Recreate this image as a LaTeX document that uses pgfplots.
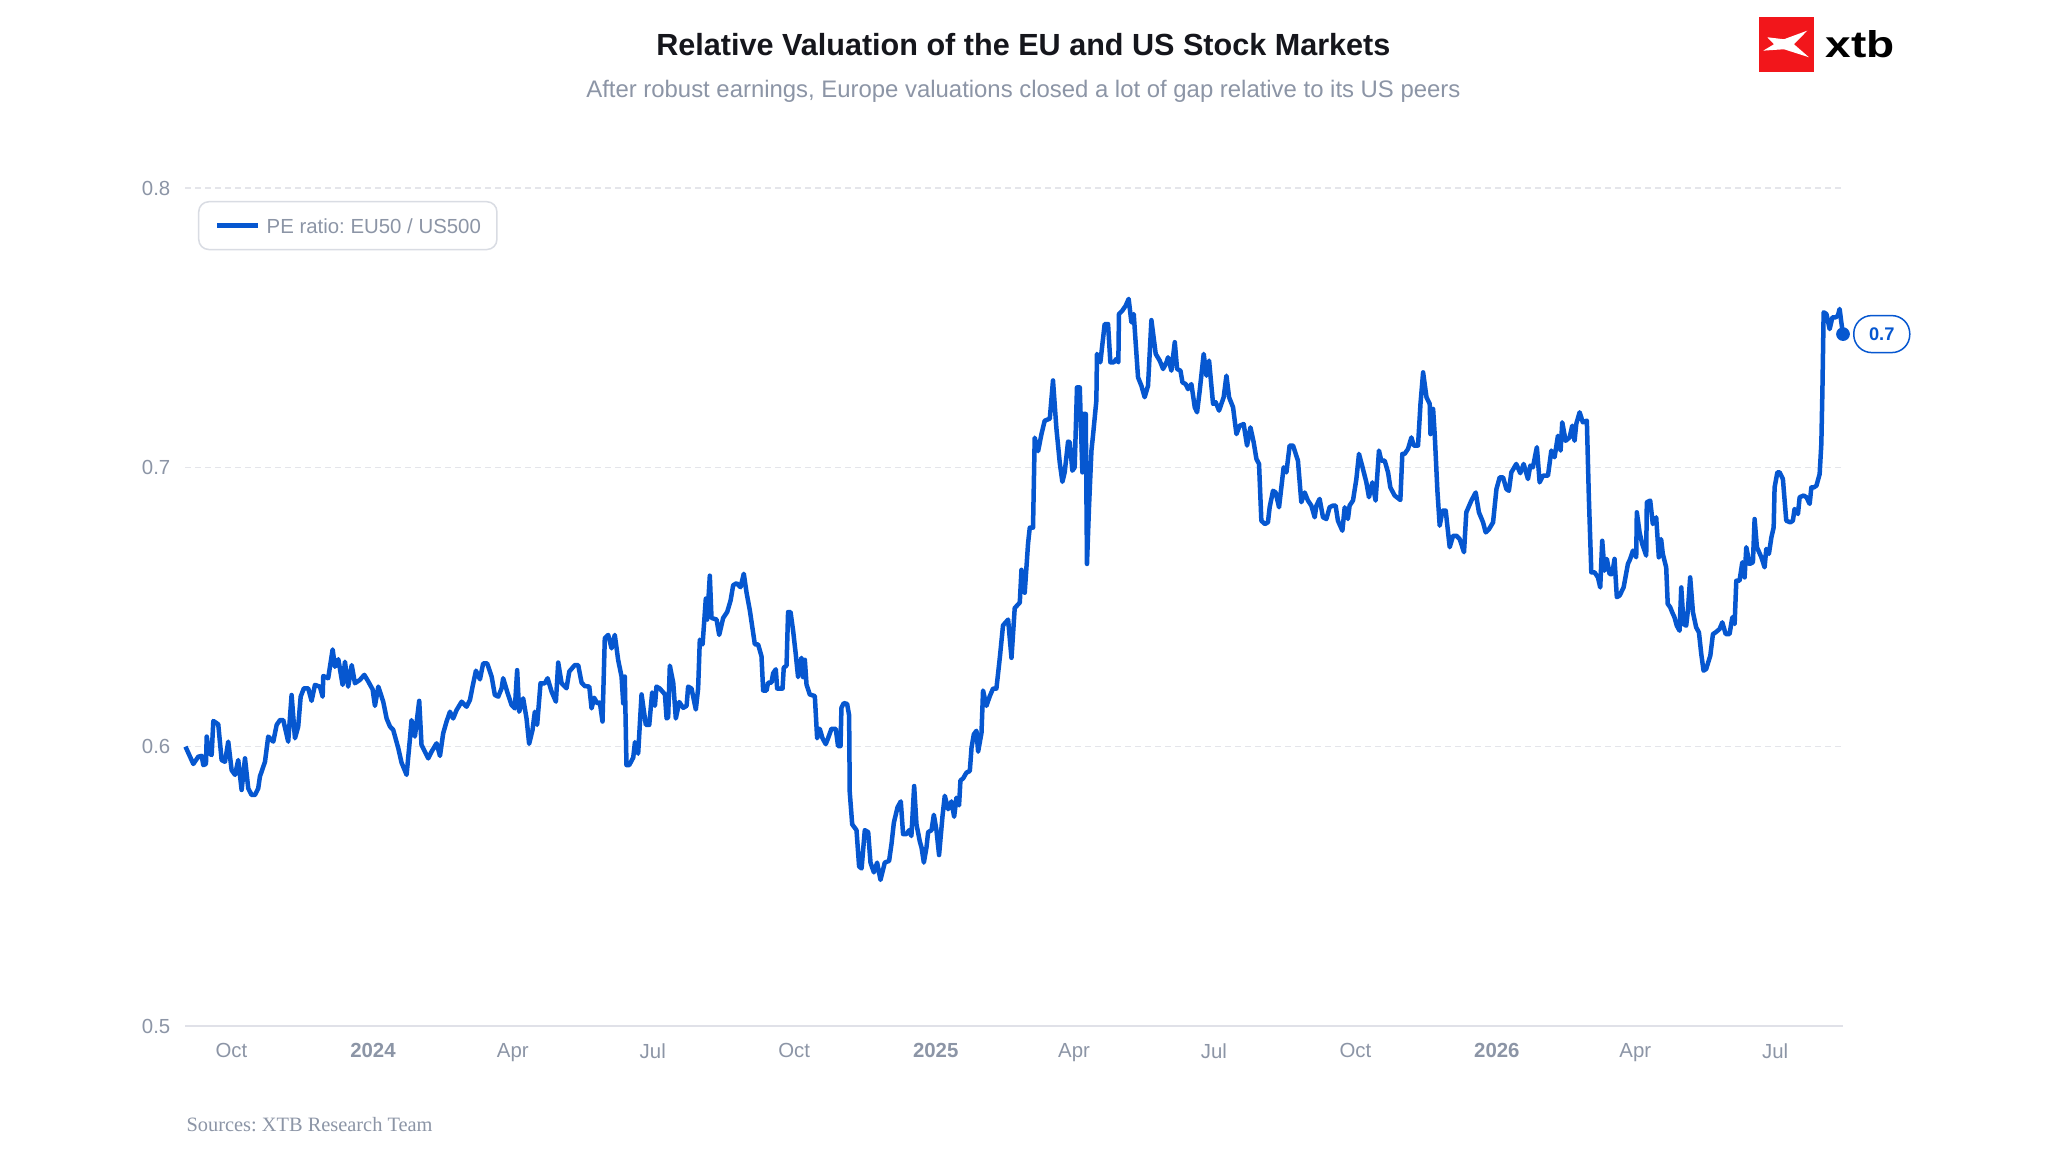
\documentclass[border=0pt]{standalone}
\usepackage{fontspec}
\setmainfont{Liberation Sans}
\newfontfamily\seriffont{Liberation Serif}
\usepackage{pgfplots}
\pgfplotsset{compat=1.18}
\usepackage{pgfplotstable}
\usepackage{graphicx}
\frenchspacing
\definecolor{lineblue}{HTML}{0657D0}
\definecolor{labelgray}{HTML}{8C95A6}
\definecolor{gridgray}{HTML}{E4E5EA}
\definecolor{axisgray}{HTML}{E0E1E8}
\definecolor{legendgray}{HTML}{D9DCE3}
\definecolor{titlecolor}{HTML}{15161C}
\definecolor{xtbred}{HTML}{F2161B}

\pgfplotstableread{
d v
-121.9 0.6000
-116.8 0.5938
-113.6 0.5964
-111.4 0.5967
-110.3 0.5934
-108.6 0.5938
-108.1 0.6036
-106.4 0.5976
-104.9 0.5970
-103.8 0.6092
-100.6 0.6080
-98.4 0.5952
-96.2 0.5946
-94.1 0.6018
-91.9 0.5916
-89.7 0.5899
-87.6 0.5952
-85.4 0.5845
-83.2 0.5958
-81.1 0.5851
-78.9 0.5827
-76.7 0.5827
-74.6 0.5851
-73.5 0.5893
-70.2 0.5946
-68.1 0.6036
-64.8 0.6018
-62.6 0.6078
-60.5 0.6095
-58.3 0.6095
-55.1 0.6018
-52.9 0.6185
-50.7 0.6030
-48.6 0.6072
-47.0 0.6179
-44.9 0.6209
-42.1 0.6209
-39.9 0.6164
-37.7 0.6221
-34.5 0.6215
-32.7 0.6179
-32.3 0.6253
-29.1 0.6245
-26.2 0.6348
-24.7 0.6286
-22.5 0.6313
-19.7 0.6221
-18.2 0.6304
-16.1 0.6215
-13.8 0.6292
-11.7 0.6227
-8.5 0.6239
-5.6 0.6257
-3.0 0.6233
-0.2 0.6205
1.3 0.6146
3.5 0.6215
6.7 0.6161
8.9 0.6101
11.1 0.6072
13.2 0.6060
16.5 0.5994
18.6 0.5943
21.9 0.5899
24.1 0.6030
25.1 0.6095
27.3 0.6036
30.1 0.6164
31.6 0.6006
36.0 0.5958
38.1 0.5982
41.4 0.6012
43.6 0.5967
45.7 0.6048
47.9 0.6090
50.1 0.6125
52.2 0.6101
54.4 0.6131
57.7 0.6161
60.9 0.6143
63.1 0.6167
64.8 0.6215
67.0 0.6272
69.6 0.6241
71.7 0.6298
74.3 0.6298
77.2 0.6251
79.3 0.6185
81.5 0.6179
83.7 0.6209
84.7 0.6245
87.3 0.6197
90.2 0.6149
92.3 0.6137
93.8 0.6274
95.1 0.6125
97.7 0.6173
99.9 0.6101
101.6 0.6010
103.8 0.6060
105.3 0.6125
106.8 0.6078
109.0 0.6227
111.8 0.6227
113.6 0.6245
116.2 0.6197
119.0 0.6161
120.5 0.6301
122.7 0.6227
125.9 0.6209
127.7 0.6269
131.3 0.6292
133.5 0.6292
135.7 0.6229
137.8 0.6217
140.7 0.6215
142.2 0.6137
143.9 0.6175
145.9 0.6155
147.6 0.6158
149.3 0.6090
150.8 0.6388
153.0 0.6400
155.2 0.6352
157.3 0.6400
159.5 0.6310
161.7 0.6251
162.8 0.6155
163.8 0.6251
164.9 0.5934
166.7 0.5934
169.3 0.5961
170.4 0.6016
172.5 0.5975
174.7 0.6187
177.5 0.6078
179.7 0.6078
181.6 0.6194
183.4 0.6146
184.4 0.6215
186.6 0.6208
189.9 0.6187
191.0 0.6101
192.0 0.6105
193.1 0.6290
195.3 0.6229
197.0 0.6101
199.2 0.6160
201.8 0.6139
204.0 0.6146
205.0 0.6215
207.2 0.6208
210.0 0.6133
211.5 0.6208
212.6 0.6383
214.4 0.6366
216.5 0.6530
217.4 0.6455
219.1 0.6612
220.2 0.6461
223.5 0.6455
225.2 0.6400
227.8 0.6461
230.4 0.6482
232.6 0.6523
234.3 0.6578
236.5 0.6585
239.1 0.6571
241.2 0.6619
243.0 0.6551
245.1 0.6489
247.3 0.6407
248.4 0.6366
250.5 0.6366
252.7 0.6324
253.8 0.6201
256.0 0.6201
257.0 0.6229
259.2 0.6229
260.3 0.6263
262.0 0.6277
262.9 0.6208
266.4 0.6208
267.2 0.6283
269.0 0.6290
270.0 0.6482
271.6 0.6482
273.3 0.6414
275.0 0.6331
276.5 0.6249
278.7 0.6318
279.8 0.6249
280.9 0.6311
282.0 0.6222
284.1 0.6187
287.4 0.6181
288.9 0.6030
290.6 0.6064
292.4 0.6030
294.5 0.6009
296.0 0.6030
298.2 0.6064
301.0 0.6064
302.5 0.6002
304.1 0.6002
304.7 0.6139
306.2 0.6156
308.4 0.6153
309.7 0.6112
310.1 0.5838
311.7 0.5722
314.5 0.5701
316.2 0.5571
317.8 0.5564
319.9 0.5701
322.1 0.5694
323.6 0.5585
325.8 0.5550
327.9 0.5585
330.1 0.5523
332.9 0.5585
335.7 0.5591
337.3 0.5653
338.8 0.5728
341.2 0.5783
343.3 0.5804
344.8 0.5687
347.0 0.5687
348.7 0.5701
350.2 0.5680
352.0 0.5859
353.5 0.5722
355.7 0.5660
356.8 0.5639
358.3 0.5585
360.0 0.5639
361.1 0.5694
363.3 0.5701
364.8 0.5756
366.5 0.5701
368.2 0.5612
370.4 0.5749
371.9 0.5824
374.1 0.5776
376.3 0.5804
378.0 0.5749
379.5 0.5817
381.2 0.5790
382.1 0.5879
383.8 0.5886
386.0 0.5907
388.2 0.5913
389.3 0.5996
390.8 0.6044
392.5 0.6057
393.6 0.5982
395.8 0.6050
396.8 0.6201
399.0 0.6146
401.2 0.6181
403.3 0.6208
405.5 0.6208
407.7 0.6318
409.8 0.6434
413.1 0.6455
415.3 0.6318
417.4 0.6496
420.7 0.6516
421.8 0.6633
423.9 0.6551
426.1 0.6729
427.2 0.6784
429.3 0.6784
430.4 0.7106
432.6 0.7058
434.8 0.7119
436.9 0.7167
440.2 0.7174
442.3 0.7311
444.5 0.7140
446.7 0.7016
448.4 0.6948
449.9 0.6982
452.1 0.7092
453.2 0.7090
454.9 0.6988
456.4 0.7000
457.9 0.7286
459.7 0.7286
461.4 0.6982
462.3 0.7191
463.6 0.7191
464.4 0.6654
465.7 0.6857
467.3 0.7060
468.3 0.7113
470.5 0.7239
470.9 0.7406
473.1 0.7376
475.9 0.7513
478.1 0.7513
479.6 0.7376
481.8 0.7376
483.5 0.7388
484.8 0.7376
485.2 0.7549
487.4 0.7561
489.6 0.7579
491.5 0.7603
493.3 0.7519
494.8 0.7549
497.6 0.7322
499.8 0.7292
501.9 0.7251
504.1 0.7292
506.3 0.7527
509.1 0.7406
511.7 0.7382
513.9 0.7352
516.1 0.7376
517.1 0.7394
519.3 0.7346
521.5 0.7448
523.0 0.7352
525.2 0.7346
526.5 0.7304
528.6 0.7298
530.1 0.7280
532.3 0.7298
534.5 0.7215
536.0 0.7197
537.7 0.7274
540.3 0.7406
542.1 0.7328
543.8 0.7382
546.4 0.7227
548.1 0.7233
550.3 0.7203
553.3 0.7251
555.1 0.7328
556.8 0.7251
559.4 0.7215
561.6 0.7119
563.7 0.7149
566.3 0.7155
568.5 0.7078
570.7 0.7143
572.8 0.7090
574.6 0.7030
576.3 0.7012
577.8 0.6809
580.0 0.6797
582.1 0.6803
583.2 0.6857
585.4 0.6916
587.1 0.6910
589.3 0.6857
590.8 0.6928
592.3 0.7000
594.1 0.6982
596.2 0.7078
598.4 0.7078
601.6 0.7024
603.8 0.6875
606.0 0.6910
608.1 0.6881
610.3 0.6863
612.5 0.6821
613.6 0.6863
615.7 0.6887
617.9 0.6821
620.1 0.6815
622.2 0.6857
624.4 0.6863
626.1 0.6863
627.6 0.6809
630.5 0.6773
632.0 0.6857
634.1 0.6815
635.2 0.6863
637.4 0.6881
639.6 0.6958
641.3 0.7048
643.9 0.6994
646.1 0.6946
647.8 0.6893
650.0 0.6946
652.1 0.6881
654.3 0.7060
655.8 0.7024
658.0 0.7024
660.2 0.6982
661.7 0.6928
664.5 0.6899
668.2 0.6883
669.5 0.7048
671.0 0.7048
673.2 0.7066
675.4 0.7107
676.9 0.7078
679.7 0.7078
681.3 0.7227
683.0 0.7340
685.2 0.7251
687.3 0.7227
687.8 0.7119
689.5 0.7209
690.6 0.7113
692.3 0.6916
693.8 0.6791
695.6 0.6845
697.7 0.6845
700.3 0.6714
702.5 0.6755
704.7 0.6755
706.8 0.6743
709.6 0.6696
711.1 0.6839
714.4 0.6881
717.2 0.6910
719.3 0.6839
722.0 0.6803
723.7 0.6767
725.9 0.6779
728.5 0.6803
730.7 0.6922
732.8 0.6964
735.0 0.6964
737.2 0.6922
738.8 0.6916
740.4 0.6982
743.6 0.7012
746.2 0.6979
748.4 0.7012
751.2 0.6958
752.7 0.7006
754.4 0.7000
757.0 0.7072
758.8 0.6946
760.9 0.6970
764.2 0.6970
766.4 0.7060
768.5 0.7036
770.7 0.7113
772.4 0.7060
773.5 0.7161
775.7 0.7095
778.3 0.7107
780.0 0.7149
781.5 0.7095
782.6 0.7155
784.8 0.7197
786.9 0.7161
789.5 0.7167
790.8 0.6893
792.4 0.6624
794.5 0.6624
796.7 0.6606
798.2 0.6570
799.5 0.6737
801.0 0.6630
802.5 0.6672
804.3 0.6618
806.0 0.6618
807.5 0.6672
809.0 0.6535
810.8 0.6541
813.4 0.6570
816.2 0.6654
817.7 0.6672
819.5 0.6702
821.6 0.6678
822.0 0.6839
823.8 0.6767
825.5 0.6726
828.1 0.6684
828.5 0.6875
830.7 0.6881
832.4 0.6797
834.6 0.6821
836.3 0.6678
837.8 0.6743
838.9 0.6690
841.1 0.6642
842.1 0.6511
843.7 0.6499
845.0 0.6481
846.5 0.6463
848.0 0.6433
849.8 0.6415
850.9 0.6570
852.4 0.6439
854.1 0.6433
855.2 0.6487
856.7 0.6606
858.5 0.6481
860.6 0.6427
862.4 0.6409
863.9 0.6332
865.4 0.6272
867.1 0.6278
869.8 0.6326
871.5 0.6403
873.2 0.6409
875.8 0.6421
877.6 0.6445
879.8 0.6403
882.3 0.6403
884.1 0.6463
885.6 0.6439
886.7 0.6594
888.8 0.6594
890.6 0.6660
892.1 0.6606
893.2 0.6714
895.3 0.6654
897.5 0.6660
898.6 0.6815
900.1 0.6714
903.0 0.6678
905.1 0.6642
906.2 0.6708
907.9 0.6690
909.5 0.6749
911.0 0.6785
911.6 0.6928
913.4 0.6982
914.9 0.6982
917.0 0.6958
919.2 0.6809
921.8 0.6803
923.5 0.6809
924.6 0.6851
926.8 0.6833
927.9 0.6893
930.5 0.6899
932.3 0.6893
934.4 0.6869
935.5 0.6928
937.0 0.6928
938.8 0.6934
940.9 0.6976
942.0 0.7084
942.7 0.7274
943.5 0.7555
945.3 0.7549
947.4 0.7495
949.2 0.7537
951.3 0.7537
952.8 0.7543
953.9 0.7567
955.0 0.7519
956.1 0.7477
}\ratio

\begin{document}
\begin{tikzpicture}
\useasboundingbox (0,0) rectangle (20.48cm,11.52cm);
\fill[white] (0,0) rectangle (20.48cm,11.52cm);
\begin{axis}[
  at={(1.855cm,1.26cm)}, anchor=south west,
  scale only axis, width=16.575cm, height=8.38cm,
  xmin=-121.9, xmax=956.1, ymin=0.5, ymax=0.8,
  clip=false,
  axis x line*=bottom, axis y line*=left,
  x axis line style={draw=axisgray, line width=0.015cm},
  y axis line style={draw=none},
  major tick length=0pt,
  xtick={-92,0,91,182,274,366,456,547,639,731,821,912},
  xticklabels={Oct,\textbf{2024},Apr,Jul,Oct,\textbf{2025},Apr,Jul,Oct,\textbf{2026},Apr,Jul},
  ytick={0.5,0.6,0.7,0.8},
  yticklabels={0.5,0.6,0.7,0.8},
  ymajorgrids,
  major grid style={draw=gridgray, line width=0.013cm, dash pattern=on 0.06cm off 0.04cm},
  tick label style={font=\fontsize{5.8}{7}\selectfont, text=labelgray, inner sep=0pt},
  xticklabel style={anchor=north, yshift=-0.166cm},
  yticklabel style={anchor=east, xshift=-0.145cm},
  legend style={at={(0.00754,0.9845)}, anchor=north west, draw=legendgray,
    line width=0.015cm, rounded corners=0.1cm, fill=white,
    inner xsep=0.16cm, inner ysep=0.165cm,
    font=\fontsize{5.8}{7}\selectfont, text=labelgray,
    nodes={inner sep=0pt, text depth=0pt}, column sep=0.06cm},
  legend cell align=left,
  legend image code/.code={\draw[line width=0.05cm, sharp corners, #1] (0cm,0cm) -- (0.41cm,0cm);},
]
\addplot[color=lineblue, line width=0.045cm, line join=round] table[x=d,y=v]{\ratio};
\addlegendentry{PE ratio: EU50 / US500}
\addplot[only marks, mark=*, mark size=1.75pt, color=lineblue, forget plot] coordinates {(956.1,0.7477)};
\node[draw=lineblue, line width=0.015cm, fill=white, rounded corners=0.18cm,
  minimum width=0.56cm, minimum height=0.37cm, inner sep=0pt, anchor=west,
  xshift=0.1cm, text=lineblue, font=\bfseries\fontsize{5.2}{6}\selectfont]
  at (axis cs:956.1,0.7477) {0.7};
\end{axis}
\begin{scope}[x=0.01cm, y=-0.01cm, yshift=11.52cm]
\node[anchor=base, font=\bfseries\fontsize{8.7}{10}\selectfont, text=titlecolor] at (1024,55.4) {Relative Valuation of the EU and US Stock Markets};
\node[anchor=base, font=\fontsize{6.8}{8}\selectfont, text=labelgray] at (1024,97.5) {After robust earnings, Europe valuations closed a lot of gap relative to its US peers};
\node[anchor=base west, inner sep=0pt, font=\seriffont\fontsize{5.8}{7}\selectfont, text=labelgray] at (186,1132) {Sources: XTB Research Team};
\fill[xtbred] (1760,17) rectangle (1815,72);
\fill[white] (1768.3,37.3) -- (1785,39.3) -- (1808.3,30.7) -- (1795,44.3) -- (1810,57.3) -- (1785,49.3) -- (1764.3,50.7) -- (1775,44.3) -- cycle;
\node[anchor=base west, inner sep=0pt, text=black] at (1826,57.3) {\resizebox{0.69cm}{0.27cm}{\bfseries xtb}};
\end{scope}
\end{tikzpicture}
\end{document}
